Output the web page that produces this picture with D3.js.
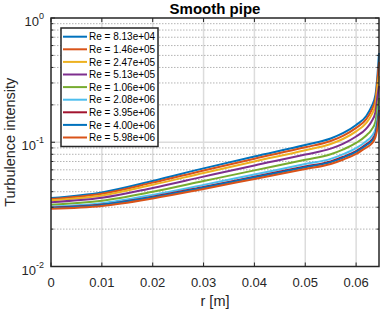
<!DOCTYPE html>
<html>
<head>
<meta charset="utf-8">
<script src="https://cdn.jsdelivr.net/npm/d3@7"></script>
<style>
  body { margin: 0; background: #fff; }
  svg { display: block; font-family: "Liberation Sans", Arial, sans-serif; }
</style>
</head>
<body>
<svg id="svg1" width="382" height="312"></svg>
<script>
// radius positions (m)
var r_pts = [0, 0.01, 0.02, 0.03, 0.04, 0.05, 0.055, 0.0575, 0.06, 0.062, 0.063, 0.0638, 0.0642, 0.0645];

var re_labels = ["Re = 8.13e+04", "Re = 1.46e+05", "Re = 2.47e+05", "Re = 5.13e+05", "Re = 1.06e+06",
                 "Re = 2.08e+06", "Re = 3.95e+06", "Re = 4.00e+06", "Re = 5.98e+06"];

var ti_813e4 = [0.0356, 0.0395, 0.0488, 0.0616, 0.0769, 0.0951, 0.1073, 0.1188, 0.1378, 0.1628, 0.1923, 0.2401, 0.3478, 0.5230];
var ti_146e5 = [0.0349, 0.0385, 0.0473, 0.0593, 0.0737, 0.0910, 0.1023, 0.1131, 0.1306, 0.1535, 0.1796, 0.2218, 0.3152, 0.4426];
var ti_247e5 = [0.0341, 0.0373, 0.0455, 0.0566, 0.0701, 0.0862, 0.0967, 0.1067, 0.1224, 0.1432, 0.1654, 0.2014, 0.2801, 0.3415];
var ti_513e5 = [0.0329, 0.0357, 0.0429, 0.0529, 0.0651, 0.0796, 0.0888, 0.0976, 0.1112, 0.1289, 0.1462, 0.1746, 0.2349, 0.2837];
var ti_106e6 = [0.0314, 0.0338, 0.0399, 0.0487, 0.0594, 0.0722, 0.0801, 0.0877, 0.0987, 0.1134, 0.1257, 0.1464, 0.1891, 0.2272];
var ti_208e6 = [0.0303, 0.0323, 0.0377, 0.0454, 0.0551, 0.0667, 0.0735, 0.0802, 0.0897, 0.1020, 0.1112, 0.1270, 0.1586, 0.1959];
var ti_395e6 = [0.0297, 0.0315, 0.0365, 0.0437, 0.0528, 0.0638, 0.0701, 0.0764, 0.0850, 0.0963, 0.1038, 0.1173, 0.1438, 0.1820];
var ti_400e6 = [0.0295, 0.0313, 0.0361, 0.0432, 0.0522, 0.0629, 0.0692, 0.0753, 0.0835, 0.0946, 0.1017, 0.1145, 0.1396, 0.1721];
var ti_598e6 = [0.0291, 0.0307, 0.0353, 0.0421, 0.0507, 0.0610, 0.0669, 0.0727, 0.0805, 0.0908, 0.0969, 0.1100, 0.1303, 0.1628];

var series = [ti_813e4, ti_146e5, ti_247e5, ti_513e5, ti_106e6, ti_208e6, ti_395e6, ti_400e6, ti_598e6];
var colors = ["#0072BD", "#D95319", "#EDB120", "#7E2F8E", "#77AC30", "#4DBEEE", "#A2142F", "#0072BD", "#D95319"];

var x_ticks = [0, 0.01, 0.02, 0.03, 0.04, 0.05, 0.06];
var y_major = [1e-2, 1e-1, 1];
var y_exp = ["-2", "-1", "0"];

var p_left = 51, p_right = 379, p_top = 18, p_bottom = 266.5;

var svg = d3.select("#svg1");
var x = d3.scaleLinear().domain([0, 0.0645]).range([p_left, p_right]);
var y = d3.scaleLog().domain([0.01, 1]).range([p_bottom, p_top]);

// minor y values
var y_minor = [];
[0.01, 0.1].forEach(function(d){
    for (var k = 2; k <= 9; k++) y_minor.push(d * k);
});

// grid
var grid = svg.append("g");
grid.selectAll(".gx").data(x_ticks.slice(1)).enter().append("line")
    .attr("x1", d => x(d)).attr("x2", d => x(d))
    .attr("y1", p_top).attr("y2", p_bottom)
    .attr("stroke", "#dcdcdc").attr("stroke-width", 1.5);
grid.selectAll(".gym").data(y_minor).enter().append("line")
    .attr("x1", p_left).attr("x2", p_right)
    .attr("y1", d => y(d)).attr("y2", d => y(d))
    .attr("stroke", "#b4b4b4").attr("stroke-width", 1)
    .attr("stroke-dasharray", "1.5,1.5");
grid.append("line")
    .attr("x1", p_left).attr("x2", p_right)
    .attr("y1", y(0.1)).attr("y2", y(0.1))
    .attr("stroke", "#dcdcdc").attr("stroke-width", 1.5);

// curves
var line = d3.line()
    .x((d, i) => x(r_pts[i]))
    .y(d => y(d))
    .curve(d3.curveMonotoneX);

svg.append("g").selectAll("path").data(series).enter().append("path")
    .attr("d", line)
    .attr("fill", "none")
    .attr("stroke", (d, i) => colors[i])
    .attr("stroke-width", 2);

// axes box
var ax_col = "#262626";
svg.append("rect")
    .attr("x", p_left).attr("y", p_top)
    .attr("width", p_right - p_left).attr("height", p_bottom - p_top)
    .attr("fill", "none").attr("stroke", ax_col).attr("stroke-width", 1.5);

// ticks (inside)
var ticks = svg.append("g").attr("stroke", ax_col).attr("stroke-width", 1);
x_ticks.forEach(function(t){
    ticks.append("line").attr("x1", x(t)).attr("x2", x(t)).attr("y1", p_bottom).attr("y2", p_bottom - 4);
    ticks.append("line").attr("x1", x(t)).attr("x2", x(t)).attr("y1", p_top).attr("y2", p_top + 4);
});
y_major.forEach(function(t){
    ticks.append("line").attr("x1", p_left).attr("x2", p_left + 4).attr("y1", y(t)).attr("y2", y(t));
    ticks.append("line").attr("x1", p_right).attr("x2", p_right - 4).attr("y1", y(t)).attr("y2", y(t));
});
y_minor.forEach(function(t){
    ticks.append("line").attr("x1", p_left).attr("x2", p_left + 2.5).attr("y1", y(t)).attr("y2", y(t));
    ticks.append("line").attr("x1", p_right).attr("x2", p_right - 2.5).attr("y1", y(t)).attr("y2", y(t));
});

// tick labels
svg.append("g").selectAll("text").data(x_ticks).enter().append("text")
    .attr("x", d => x(d)).attr("y", 286.5)
    .attr("text-anchor", "middle").attr("font-size", 13).attr("fill", ax_col)
    .text(d => d === 0 ? "0" : d3.format(".2f")(d));

var ylab = svg.append("g").selectAll("text").data(y_major).enter().append("text")
    .attr("x", 44).attr("y", d => y(d) + 8)
    .attr("text-anchor", "end").attr("font-size", 13).attr("fill", ax_col);
ylab.append("tspan").text("10");
ylab.append("tspan").attr("dy", -7).attr("font-size", 9).text((d, i) => y_exp[i]);

// titles
svg.append("text").attr("x", (p_left + p_right) / 2).attr("y", 14)
    .attr("text-anchor", "middle").attr("font-size", 15).attr("font-weight", "bold")
    .attr("fill", "#000").text("Smooth pipe");
svg.append("text").attr("x", (p_left + p_right) / 2).attr("y", 306)
    .attr("text-anchor", "middle").attr("font-size", 14.5).attr("fill", ax_col).text("r [m]");
svg.append("text").attr("transform", "translate(15," + ((p_top + p_bottom) / 2) + ") rotate(-90)")
    .attr("text-anchor", "middle").attr("font-size", 14.5).attr("fill", ax_col).text("Turbulence intensity");

// legend
var leg = svg.append("g");
leg.append("rect").attr("x", 61).attr("y", 28).attr("width", 97).attr("height", 118.5)
    .attr("fill", "#fff").attr("stroke", ax_col).attr("stroke-width", 1.5);
re_labels.forEach(function(lbl, i){
    var ly = 36.7 + i * 12.6;
    leg.append("line").attr("x1", 63).attr("x2", 87).attr("y1", ly).attr("y2", ly)
        .attr("stroke", colors[i]).attr("stroke-width", 2);
    leg.append("text").attr("x", 89).attr("y", ly + 3.6).attr("font-size", 10)
        .attr("fill", "#000").text(lbl);
});
</script>
</body>
</html>
